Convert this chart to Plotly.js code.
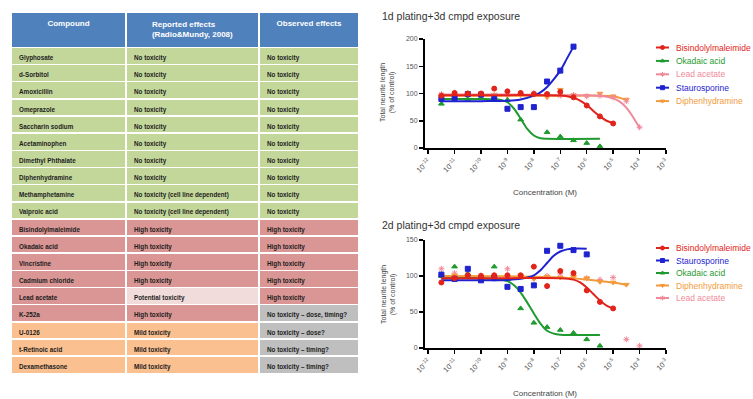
<!DOCTYPE html>
<html>
<head>
<meta charset="utf-8">
<script src="https://cdn.plot.ly/plotly-3.0.1.min.js"></script>
<style>html,body{margin:0;padding:0;background:#fff;}#chart{width:753px;height:399px;}</style>
</head>
<body>
<div id="chart"></div>
<script>
// ---------- Table data ----------
const compounds = ['Glyphosate','d-Sorbitol','Amoxicillin','Omeprazole','Saccharin sodium','Acetaminophen','Dimethyl Phthalate','Diphenhydramine','Methamphetamine','Valproic acid','Bisindolylmaleimide','Okadaic acid','Vincristine','Cadmium chloride','Lead acetate','K-252a','U-0126','t-Retinoic acid','Dexamethasone'];
const reported = ['No toxicity','No toxicity','No toxicity','No toxicity','No toxicity','No toxicity','No toxicity','No toxicity','No toxicity (cell line dependent)','No toxicity (cell line dependent)','High toxicity','High toxicity','High toxicity','High toxicity','Potential toxicity','High toxicity','Mild toxicity','Mild toxicity','Mild toxicity'];
const observed = ['No toxicity','No toxicity','No toxicity','No toxicity','No toxicity','No toxicity','No toxicity','No toxicity','No toxicity','No toxicity','High toxicity','High toxicity','High toxicity','High toxicity','High toxicity','No toxicity – dose, timing?','No toxicity – dose?','No toxicity – timing?','No toxicity – timing?'];
const rowGroup = ['none','none','none','none','none','none','none','none','none','none','high','high','high','high','high','high','mild','mild','mild'];
const headers = ['Compound','Reported effects<br>(Radio&amp;Mundy, 2008)','Observed effects'];

// ---------- Panel 1 (1d plating + 3d exposure), log10 concentration / % of control ----------
const p1_bis_e = [-11.5,-11,-10.5,-10,-9.5,-9,-8.5,-8,-7.5,-7,-6.5,-6,-5.5,-5];
const p1_bis_v = [96,101,100,100,109,104,101,99,99,103,93,78,58,45];
const p1_bis_fe = [-11.5,-10,-9,-8,-7,-6.75,-6.5,-6.25,-6,-5.75,-5.5,-5.25,-5];
const p1_bis_fv = [97,97,97,97,96.5,95,92,87,79,68,58,50,46];

const p1_oka_e = [-11.5,-11,-10.5,-10,-9.5,-9,-8.5,-7.5,-7,-6.5,-6,-5.5];
const p1_oka_v = [81,92,90,91,90,88,52,29,21,14,9,3];
const p1_oka_fe = [-11.5,-10,-9.5,-9.25,-9,-8.75,-8.5,-8.25,-8,-7.75,-7.5,-5.5];
const p1_oka_fv = [90,90,89.5,88,84,72,54,35,23,18,17,17];

const p1_lead_e = [-11.5,-11,-10.5,-10,-9.5,-9,-8.5,-8,-7.5,-7,-6.5,-6,-5.5,-5,-4.5,-4];
const p1_lead_v = [99,98,100,99,97,98,100,101,98,96,97,95,96,93,86,38];
const p1_lead_fe = [-11.5,-9,-7,-5.5,-5,-4.75,-4.5,-4.25,-4];
const p1_lead_fv = [98,98,97,96,91,85,74,57,37];

const p1_stau_e = [-11.5,-11,-10.5,-10,-9.5,-9,-8.5,-8,-7.5,-7,-6.5];
const p1_stau_v = [90,92,99,98,90,72,75,75,122,142,186];
const p1_stau_fe = [-11.5,-10,-9,-8.5,-8,-7.75,-7.5,-7.25,-7,-6.75,-6.5];
const p1_stau_fv = [86,86,86.5,89,96,102,112,126,142,164,186];

const p1_diph_e = [-11.5,-11,-10.5,-10,-9.5,-9,-8.5,-8,-7.5,-7,-6.5,-6,-5.5,-5,-4.5];
const p1_diph_v = [95,97,96,97,98,96,97,98,93,107,97,96,100,95,89];
const p1_diph_fe = [-11.5,-9,-7,-5.5,-5,-4.75,-4.5];
const p1_diph_fv = [96,96,96,96,95,92,88];

// ---------- Panel 2 (2d plating + 3d exposure) ----------
const p2_bis_e = [-11.5,-11,-10.5,-10,-9.5,-9,-8.5,-8,-7.5,-7,-6.5,-6,-5.5,-5];
const p2_bis_v = [91,97,101,100,101,101,101,113,86,107,104,80,64,55];
const p2_bis_fe = [-11.5,-9,-7,-6.5,-6.25,-6,-5.75,-5.5,-5.25,-5];
const p2_bis_fv = [97,97,97,95,91,84,75,66,59,55];

const p2_stau_e = [-11.5,-11,-10.5,-10,-9.5,-9,-8.5,-8,-7.5,-7,-6.5,-6];
const p2_stau_v = [102,96,110,94,97,85,82,87,135,142,136,130];
const p2_stau_fe = [-11.5,-9,-8.5,-8,-7.75,-7.5,-7.25,-7,-6.75,-6.5,-6];
const p2_stau_fv = [94,94.5,96,101,108,118,128,134,137,138,138];

const p2_oka_e = [-11.5,-11,-10.5,-10,-9.5,-9,-8.5,-8,-7.5,-7,-6.5,-6,-5.5];
const p2_oka_v = [100,113,103,99,113,95,55,35,29,25,21,12,3];
const p2_oka_fe = [-11.5,-10,-9.5,-9,-8.75,-8.5,-8.25,-8,-7.75,-7.5,-7.25,-7,-5.5];
const p2_oka_fv = [97,97,96,93,87,77,63,48,34,24,20,18.5,18];

const p2_diph_e = [-11.5,-11,-10.5,-10,-9.5,-9,-8.5,-8,-7.5,-7,-6.5,-6,-5.5,-5,-4.5];
const p2_diph_v = [100,101,99,98,99,98,100,96,99,98,99,97,92,91,88];
const p2_diph_fe = [-11.5,-9,-8,-7,-6.5,-6,-5.5,-5,-4.5];
const p2_diph_fv = [100,99.5,99,98,97,95,93,91,88];

const p2_lead_e = [-11.5,-11,-10.5,-10,-9.5,-9,-8.5,-8,-7.5,-7,-6.5,-6,-5.5,-5,-4.5,-4];
const p2_lead_v = [110,104,102,101,100,110,100,97,100,103,100,97,95,98,12,3];

// ---------- tick labels ----------
const tickExp = [-12,-11,-10,-9,-8,-7,-6,-5,-4,-3];
const tickText = tickExp.map(e => '10<sup>' + e + '</sup>');

// ---------- legend orders ----------
const legend1 = ['Bisindolylmaleimide','Okadaic acid','Lead acetate','Staurosporine','Diphenhydramine'];
const legend2 = ['Bisindolylmaleimide','Staurosporine','Okadaic acid','Diphenhydramine','Lead acetate'];

// ---------- styles ----------
const COLORS = {'Bisindolylmaleimide':'#e2231a','Okadaic acid':'#1f9a2e','Lead acetate':'#f0899a','Staurosporine':'#1e22d0','Diphenhydramine':'#f39a3c'};
const SYMBOLS = {'Bisindolylmaleimide':'circle','Okadaic acid':'triangle-up','Lead acetate':'asterisk-open','Staurosporine':'square','Diphenhydramine':'triangle-down'};
const groupFill = {none:'#c4d79b', high:'#d99694', mild:'#fac090'};
const FONT = 'Liberation Sans, Arial, sans-serif';

const pow = a => a.map(e => Math.pow(10, e));

const col1Fill = rowGroup.map(g => groupFill[g]);
const col2Fill = reported.map((r,i) => r === 'Potential toxicity' ? '#f2dcdb' : groupFill[rowGroup[i]]);
const col3Fill = observed.map((o,i) => o.indexOf('–') >= 0 ? '#bfbfbf' : groupFill[rowGroup[i]]);

const traces = [];
traces.push({
  type:'table',
  domain:{x:[11/753, 359/753], y:[0, 1-12/399]},
  columnwidth:[115,133,100],
  header:{values:headers, align:'center', height:30,
    fill:{color:'#4f81bd'}, line:{color:'#ffffff', width:1.5},
    font:{family:FONT, size:8, color:'#ffffff', weight:'bold'}},
  cells:{values:[compounds, reported, observed], align:'left', height:17.15,
    fill:{color:[col1Fill, col2Fill, col3Fill]}, line:{color:'#ffffff', width:1.5},
    font:{family:FONT, size:6.3, color:'#1c1c1c', weight:'bold'}}
});

function addSeries(name, e, v, fe, fv, xa, ya){
  const c = COLORS[name];
  if (fe) traces.push({type:'scatter', mode:'lines', x:pow(fe), y:fv, xaxis:xa, yaxis:ya,
    line:{color:c, width:2, shape:'spline', smoothing:0.8}, showlegend:false, hoverinfo:'skip', cliponaxis:false});
  traces.push({type:'scatter', mode:'markers', x:pow(e), y:v, xaxis:xa, yaxis:ya, name:name,
    marker:{color:c, size:5, symbol:SYMBOLS[name], line:{color:c, width:1}}, showlegend:false, cliponaxis:false});
}
// panel 1 (draw order)
addSeries('Diphenhydramine', p1_diph_e, p1_diph_v, p1_diph_fe, p1_diph_fv, 'x','y');
addSeries('Lead acetate', p1_lead_e, p1_lead_v, p1_lead_fe, p1_lead_fv, 'x','y');
addSeries('Okadaic acid', p1_oka_e, p1_oka_v, p1_oka_fe, p1_oka_fv, 'x','y');
addSeries('Staurosporine', p1_stau_e, p1_stau_v, p1_stau_fe, p1_stau_fv, 'x','y');
addSeries('Bisindolylmaleimide', p1_bis_e, p1_bis_v, p1_bis_fe, p1_bis_fv, 'x','y');
// panel 2
addSeries('Lead acetate', p2_lead_e, p2_lead_v, null, null, 'x2','y2');
addSeries('Diphenhydramine', p2_diph_e, p2_diph_v, p2_diph_fe, p2_diph_fv, 'x2','y2');
addSeries('Okadaic acid', p2_oka_e, p2_oka_v, p2_oka_fe, p2_oka_fv, 'x2','y2');
addSeries('Staurosporine', p2_stau_e, p2_stau_v, p2_stau_fe, p2_stau_fv, 'x2','y2');
addSeries('Bisindolylmaleimide', p2_bis_e, p2_bis_v, p2_bis_fe, p2_bis_fv, 'x2','y2');

// legend keys on hidden axes (slot index = order in legend list)
const annotations = [];
function addLegend(list, xa, ya){
  list.forEach((name, i) => {
    const c = COLORS[name];
    traces.push({type:'scatter', mode:'lines+markers', x:[0,0.5,1], y:[i,i,i], xaxis:xa, yaxis:ya,
      line:{color:c, width:2}, marker:{color:c, size:4, symbol:SYMBOLS[name], opacity:[0,1,0], line:{color:c,width:1}},
      showlegend:false, hoverinfo:'skip', cliponaxis:false});
    annotations.push({xref:'paper', yref:ya, x:674/753, y:i, text:name, showarrow:false, xanchor:'left', yanchor:'middle',
      font:{family:FONT, size:8.5, color:c}});
  });
}
addLegend(legend1, 'x3', 'y3');
addLegend(legend2, 'x4', 'y4');

const txt = (x, y, text, size, opts) => Object.assign({xref:'paper', yref:'paper', x:x/753, y:1-y/399, text:text,
  showarrow:false, font:{family:FONT, size:size, color:'#444'}}, opts||{});
annotations.push(txt(380, 16, '1d plating+3d cmpd exposure', 10.5, {xanchor:'left', yanchor:'middle', font:{family:FONT,size:10.5,color:'#333'}}));
annotations.push(txt(380, 225, '2d plating+3d cmpd exposure', 10.5, {xanchor:'left', yanchor:'middle', font:{family:FONT,size:10.5,color:'#333'}}));
annotations.push(txt(388, 93, 'Total neurite length<br>(% of control)', 7, {textangle:-90, xanchor:'center', yanchor:'middle'}));
annotations.push(txt(388, 295, 'Total neurite length<br>(% of control)', 7, {textangle:-90, xanchor:'center', yanchor:'middle'}));
annotations.push(txt(545, 193, 'Concentration (M)', 8, {xanchor:'center', yanchor:'middle'}));
annotations.push(txt(545, 393, 'Concentration (M)', 8, {xanchor:'center', yanchor:'middle'}));

const xBase = {type:'log', range:[-12.12,-3], showgrid:false, zeroline:false, showline:true, linecolor:'#000', linewidth:2,
  ticks:'outside', ticklen:4, tickwidth:1.5, tickcolor:'#000', tickvals:pow(tickExp), ticktext:tickText, tickangle:-45,
  tickfont:{family:FONT, size:7.5, color:'#555'}, fixedrange:true};
const yBase = {showgrid:false, zeroline:false, showline:true, linecolor:'#000', linewidth:2,
  ticks:'outside', ticklen:4, tickwidth:1.5, tickcolor:'#000', tickfont:{family:FONT, size:7, color:'#555'}, fixedrange:true};

const layout = {
  width:753, height:399, margin:{l:0,r:0,t:0,b:0}, paper_bgcolor:'#fff', plot_bgcolor:'rgba(0,0,0,0)',
  showlegend:false, font:{family:FONT},
  xaxis:Object.assign({}, xBase, {domain:[425/753, 666/753], anchor:'y'}),
  yaxis:Object.assign({}, yBase, {domain:[1-148/399, 1-39/399], range:[0,200], tickvals:[0,50,100,150,200], anchor:'x'}),
  xaxis2:Object.assign({}, xBase, {domain:[425/753, 666/753], anchor:'y2'}),
  yaxis2:Object.assign({}, yBase, {domain:[1-348/399, 1-240/399], range:[0,150], tickvals:[0,50,100,150], anchor:'x2'}),
  xaxis3:{domain:[656/753, 669/753], range:[0,1], visible:false, anchor:'y3', fixedrange:true},
  yaxis3:{domain:[1-110/399, 1-38/399], range:[4.664,-0.709], visible:false, anchor:'x3', fixedrange:true},
  xaxis4:{domain:[656/753, 669/753], range:[0,1], visible:false, anchor:'y4', fixedrange:true},
  yaxis4:{domain:[1-310/399, 1-238/399], range:[4.96,-0.8], visible:false, anchor:'x4', fixedrange:true},
  annotations:annotations
};
Plotly.newPlot('chart', traces, layout, {displayModeBar:false, staticPlot:true});
</script>
</body>
</html>
